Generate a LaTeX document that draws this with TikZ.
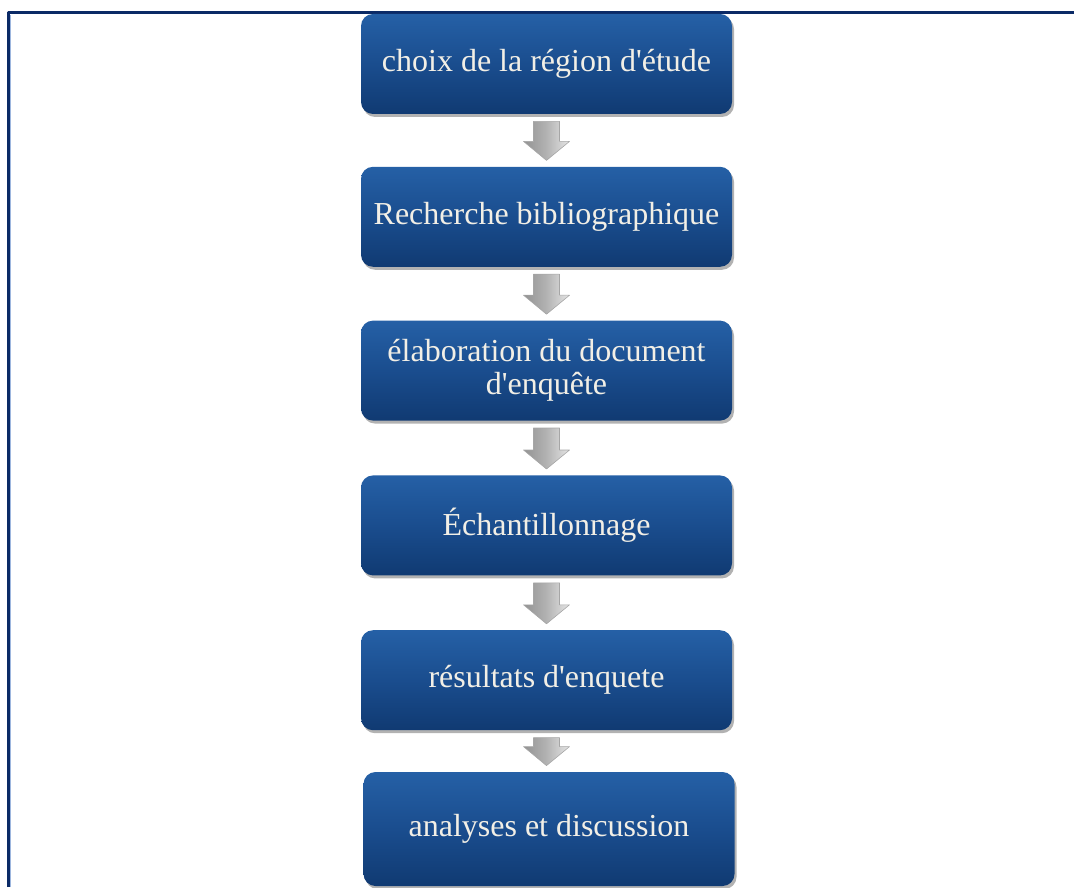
\documentclass[tikz,border=0pt]{standalone}
\usepackage{fontspec}
\newfontfamily\boxfont{Liberation Serif}
\usetikzlibrary{positioning,calc,shadows}
\definecolor{cadre}{HTML}{0B2A66}
\definecolor{cadreclair}{HTML}{9DB6DE}
\definecolor{boxtop}{HTML}{2560A6}
\definecolor{boxmid}{HTML}{1A4D8E}
\definecolor{boxbot}{HTML}{103A72}
\definecolor{boxtxt}{HTML}{F2EFE6}

\begin{document}
\begin{tikzpicture}[x=0.5pt, y=-0.5pt, line join=round]
  % styles
  \tikzset{
    etape/.style={rounded corners=6pt, minimum width=185.5pt, minimum height=50pt,
      inner sep=0pt, align=center, font=\boxfont\fontsize{16}{16.5}\selectfont,
      text=boxtxt, top color=boxtop, bottom color=boxbot, middle color=boxmid,
      drop shadow={shadow xshift=1pt, shadow yshift=-1.5pt, opacity=0.3, fill=black}},
    fleche/.style={left color=gray!85, right color=gray!20, middle color=gray!60,
      draw=gray!70, line width=0.3pt}
  }

  % ----- page & frame -----
  \useasboundingbox (0,0) rectangle (1074,887);
  \draw[cadre, line width=1.5pt] (8,887) -- (8,12.5) -- (1074,12.5);
  \draw[cadreclair, line width=0.4pt] (10.5,887) -- (10.5,15);

  % ----- steps -----
  \node[etape] (choix) at (546.5,64) {choix de la région d'étude};
  \node[etape, below=26pt of choix] (recherche) {Recherche bibliographique};
  \node[etape, below=26.5pt of recherche] (elaboration) {élaboration du document\\d'enquête};
  \node[etape, below=27pt of elaboration] (echant) {Échantillonnage};
  \node[etape, below=27pt of echant] (resultats) {résultats d'enquete};
  \node[etape, minimum height=57pt, below=20.5pt of resultats, xshift=1.25pt] (analyses)
    {analyses et discussion};

  % ----- block arrows between steps -----
  \foreach \a/\b in {choix/recherche, recherche/elaboration, elaboration/echant,
                     echant/resultats, resultats/analyses}
    \path[fleche] ($(\a.south)+(-13,7)$) -- ($(\a.south)+(13,7)$)
      -- ($(\b.north -| \a.south)+(13,-25)$) -- ($(\b.north -| \a.south)+(23,-25)$)
      -- ($(\b.north -| \a.south)+(0,-6)$)
      -- ($(\b.north -| \a.south)+(-23,-25)$) -- ($(\b.north -| \a.south)+(-13,-25)$) -- cycle;
\end{tikzpicture}
\end{document}
